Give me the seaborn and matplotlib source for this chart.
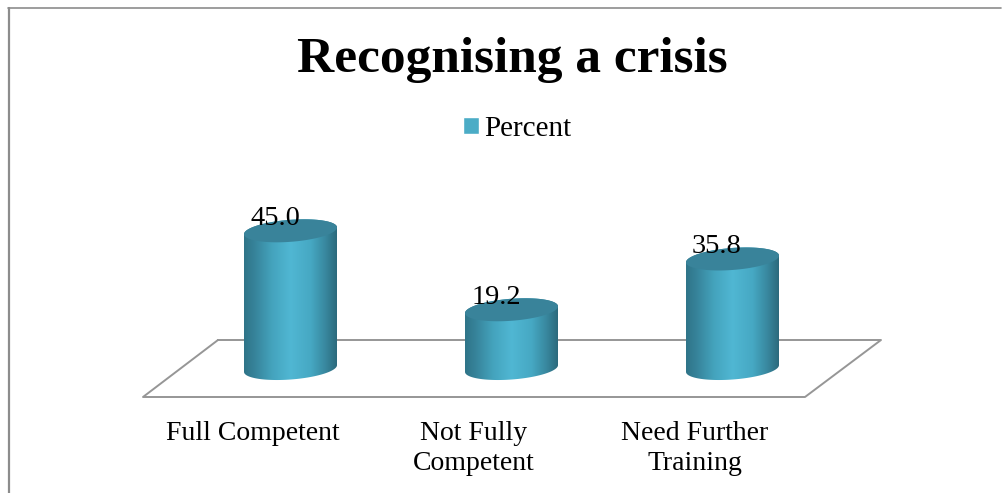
import numpy as np
import pandas as pd
import seaborn as sns
import matplotlib
matplotlib.use("Agg")
import matplotlib.pyplot as plt
from matplotlib.colors import LinearSegmentedColormap
from matplotlib.lines import Line2D
from matplotlib.patches import Polygon
from matplotlib.transforms import Affine2D, ScaledTranslation

categories = ["Full Competent", "Not Fully\nCompetent", "Need Further\nTraining"]
percent = [45.0, 19.2, 35.8]
value_labels = ["45.0", "19.2", "35.8"]
series_name = "Percent"
chart_title = "Recognising a crisis"

W, H = 1005, 493
sns.set_theme(style="white")
plt.rcParams["font.family"] = ["Liberation Serif", "DejaVu Serif"]

fig = plt.figure(figsize=(W / 100, H / 100), dpi=100, facecolor="white")
# axes spans the floor width; bottom edge sits on the front floor line
ax = fig.add_axes([143 / W, (H - 397) / H, (881 - 143) / W, (397 - 100) / H])
df = pd.DataFrame({"category": categories, "percent": percent})
sns.barplot(data=df, x="category", y="percent", width=93 / 221, color="#4bacc6",
            label=series_name, ax=ax, legend=False, saturation=1)

PX_PER_UNIT = 3.06
XLO = (143 - 290.5) / 221
XHI = (881 - 290.5) / 221
YLO = (368.5 - 397) / PX_PER_UNIT
YHI = (368.5 - 100) / PX_PER_UNIT

leg = ax.legend(loc="center", bbox_to_anchor=(517 / W, (H - 129) / H),
                bbox_transform=fig.transFigure, frameon=False, fontsize=21,
                handlelength=0.55, handleheight=0.55, handletextpad=0.2,
                labelcolor="black")

px = Affine2D().scale(1, -1).translate(0, H)
grey = "#8c8c8c"
for xs, ys, lw in [([8.5, 8.5], [493, 8], 1.6), ([8, 1001], [8, 8], 1.2)]:
    fig.add_artist(Line2D(xs, ys, color=grey, lw=lw, transform=px))
floor_pts = [(218, 340), (143, 397), (805, 397), (881, 340), (218, 340)]
fig.add_artist(Line2D(*zip(*floor_pts), color="#969696", lw=1.4, transform=px, zorder=0.5))
ax.set_zorder(2)
ax.patch.set_visible(False)

cmap = LinearSegmentedColormap.from_list("cyl", [
    (0.0, "#2f7488"), (0.12, "#37849b"), (0.3, "#44a3bd"), (0.5, "#50b7d3"),
    (0.72, "#46a8c3"), (0.88, "#38879e"), (1.0, "#2c6a7c")])
grad = np.linspace(0, 1, 256)[None, :]
t = np.linspace(0, 2 * np.pi, 181)
B, K = 3.6, 1.1

for bar in list(ax.patches):
    x0, w, h = bar.get_x(), bar.get_width(), bar.get_height()
    bar.set_visible(False)
    cx, a = x0 + w / 2, w / 2
    ex = lambda tt: cx + a * np.cos(tt)
    ey = lambda tt, c: c + K * np.cos(tt) + B * np.sin(tt)
    low = np.linspace(np.pi, 2 * np.pi, 91)
    up = np.linspace(0, np.pi, 91)
    verts = np.vstack([np.c_[ex(low), ey(low, 0)], np.c_[ex(up), ey(up, h)]])
    clip = Polygon(verts, closed=True, transform=ax.transData, fc="none", ec="none")
    ax.add_patch(clip)
    im = ax.imshow(grad, cmap=cmap, aspect="auto", extent=(x0, x0 + w, -8, h + 8),
                   zorder=3, interpolation="bilinear")
    im.set_clip_path(clip)
    ax.add_patch(Polygon(np.c_[ex(t), ey(t, h)], closed=True, fc="#39839a", ec="none", zorder=4))

for i, (v, s) in enumerate(zip(percent, value_labels)):
    ax.annotate(s, (i, v), xytext=(-15.5, 12), textcoords="offset pixels",
                ha="center", va="center", fontsize=20.5, color="black", zorder=6)

ax.set_xlim(XLO, XHI)
ax.set_ylim(YLO, YHI)
ax.set_xlabel("")
ax.set_ylabel("")
ax.set_yticks([])
ax.tick_params(axis="x", length=0, pad=17.5, labelsize=20, colors="black")
shift = ScaledTranslation(-38 / 100, 0, fig.dpi_scale_trans)
for lab in ax.get_xticklabels():
    lab.set_transform(lab.get_transform() + shift)
    lab.set_linespacing(1.27)
sns.despine(ax=ax, left=True, bottom=True, top=True, right=True)
ax.set_title(chart_title, fontsize=37, fontweight="bold", color="black", y=1, pad=20)

fig.savefig("out.png", dpi=100, facecolor="white")
